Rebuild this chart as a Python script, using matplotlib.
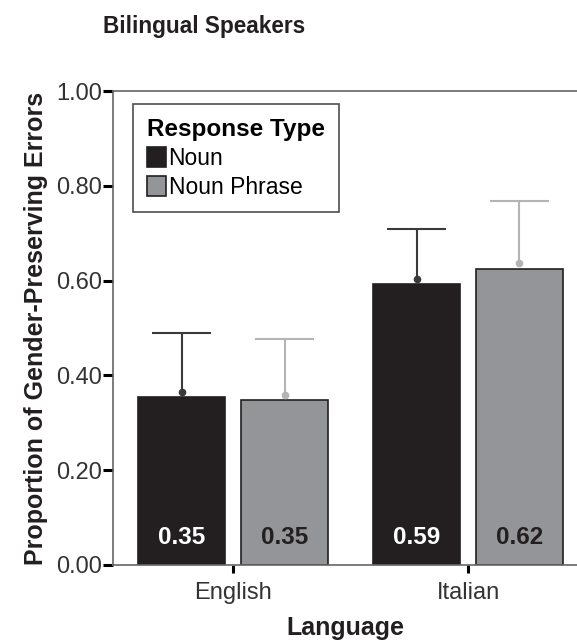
import numpy as np
import matplotlib.pyplot as plt
from matplotlib.patches import Patch

plt.rcParams['font.family'] = ['Liberation Sans', 'DejaVu Sans']

languages = ['English', 'Italian']
response_types = ['Noun', 'Noun Phrase']
bar_values = {'Noun': [0.354, 0.592], 'Noun Phrase': [0.348, 0.624]}
mean_points = {'Noun': [0.365, 0.603], 'Noun Phrase': [0.359, 0.637]}
upper_err = {'Noun': [0.489, 0.709], 'Noun Phrase': [0.477, 0.768]}
yticks = [0.0, 0.2, 0.4, 0.6, 0.8, 1.0]

fill = {'Noun': '#231f20', 'Noun Phrase': '#939598'}
err_col = {'Noun': '#3a3a3a', 'Noun Phrase': '#b4b4b4'}
txt_col = {'Noun': 'white', 'Noun Phrase': '#231f20'}

fig = plt.figure(figsize=(5.77, 6.42), dpi=100)
ax = fig.add_axes([0.196, 0.120, 0.804, 0.738])

x = np.arange(len(languages))
w = 0.37
offs = {'Noun': -0.219, 'Noun Phrase': 0.219}
cap = 0.125

for rt in response_types:
    xs = x + offs[rt]
    ax.bar(xs, bar_values[rt], width=w, color=fill[rt], edgecolor='#231f20',
           linewidth=1.2, zorder=2)
    # upper-only whisker with a cap, plus the mean dot
    ax.vlines(xs, mean_points[rt], upper_err[rt], color=err_col[rt], lw=1.5, zorder=3)
    ax.hlines(upper_err[rt], xs - cap, xs + cap, color=err_col[rt], lw=1.5, zorder=3)
    ax.plot(xs, mean_points[rt], 'o', ms=4.5, color=err_col[rt], zorder=3)
    for xi, v in zip(xs, bar_values[rt]):
        ax.text(xi, 0.058, f'{v:.2f}', ha='center', va='center',
                fontsize=17.5, fontweight='bold', color=txt_col[rt], zorder=4)

ax.set_xlim(-0.511, 1.464)
ax.set_ylim(0, 1.0)
ax.set_yticks(yticks)
ax.set_yticklabels([f'{t:.2f}' for t in yticks], fontsize=17, color='#333333')
ax.set_xticks(x)
ax.set_xticklabels(languages, fontsize=17, color='#333333')
ax.tick_params(axis='y', length=7, width=2.2, color='black', pad=1)
ax.tick_params(axis='x', length=6, width=2.2, color='black', pad=6)

for s in ['left', 'top', 'bottom']:
    ax.spines[s].set_color('#666666')
    ax.spines[s].set_linewidth(1.2)
ax.spines['right'].set_visible(False)

ax.set_ylabel('Proportion of Gender-Preserving Errors', fontsize=18,
              fontweight='bold', color='#231f20', labelpad=6)
ax.set_xlabel('Language', fontsize=18, fontweight='bold', color='#231f20',
              labelpad=9)

fig.text(0.178, 0.958, 'Bilingual Speakers', fontsize=16.3, fontweight='bold',
         color='#231f20', ha='left', va='center')

handles = [Patch(facecolor=fill[rt], edgecolor='#231f20', linewidth=1.2)
           for rt in response_types]
leg = ax.legend(handles, response_types, title='Response Type',
                loc='upper left', bbox_to_anchor=(0.043, 0.972), borderaxespad=0,
                fontsize=16.5, title_fontsize=17.5, frameon=True, fancybox=False,
                edgecolor='#231f20', handlelength=0.85, handleheight=0.95,
                handletextpad=0.1, borderpad=0.6, labelspacing=0.25,
                alignment='left')
leg.get_title().set_fontweight('bold')
leg.get_frame().set_linewidth(1.2)

fig.savefig('out.png', dpi=100)
